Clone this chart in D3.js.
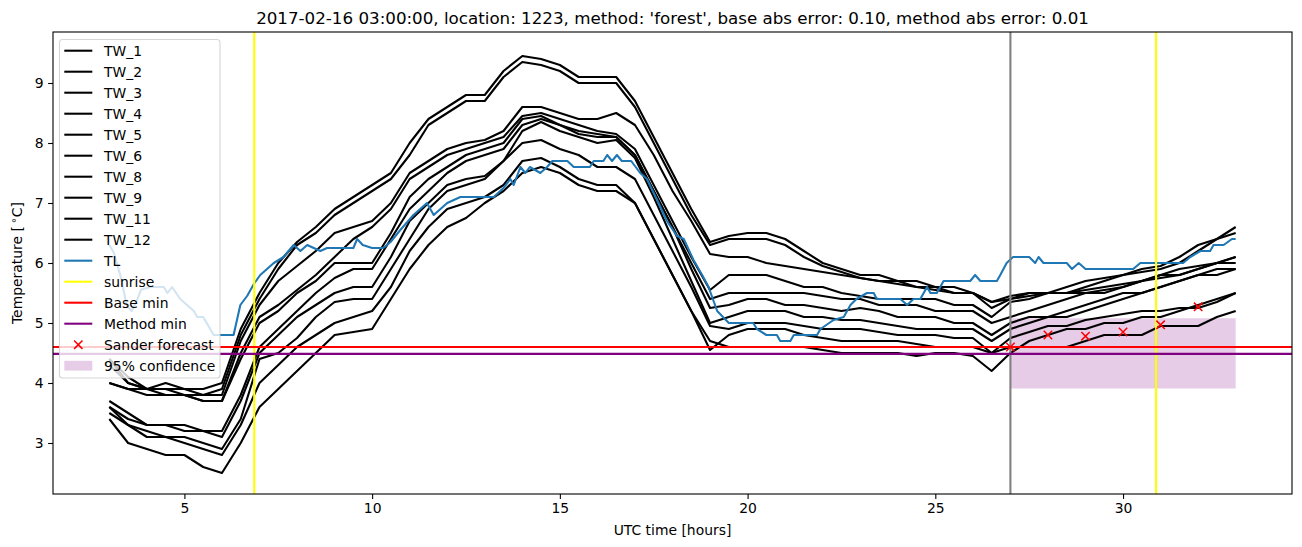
<!DOCTYPE html>
<html>
<head>
<meta charset="utf-8">
<script src="https://cdn.jsdelivr.net/npm/d3@7/dist/d3.min.js"></script>
<style>
  html, body { margin: 0; padding: 0; background: #fff; }
  svg { display: block; }
  text { font-family: "DejaVu Sans", sans-serif; fill: #000; }
</style>
</head>
<body>
<svg id="chart" width="1302" height="547"></svg>
<script>
// ---------------- data ----------------
const titleText = "2017-02-16 03:00:00, location: 1223, method: 'forest', base abs error: 0.10, method abs error: 0.01";
const xLabel = "UTC time [hours]";
const xTicks = [5, 10, 15, 20, 25, 30];
const yTicks = [3, 4, 5, 6, 7, 8, 9];

const hours = [3, 3.5, 4, 4.5, 5, 5.5, 6, 6.5, 7, 7.5, 8, 8.5, 9, 9.5, 10, 10.5, 11, 11.5, 12, 12.5,
  13, 13.5, 14, 14.5, 15, 15.5, 16, 16.5, 17, 17.5, 18, 18.5, 19, 19.5, 20, 20.5, 21, 21.5, 22, 22.5,
  23, 23.5, 24, 24.5, 25, 25.5, 26, 26.5, 27, 27.5, 28, 28.5, 29, 29.5, 30, 30.5, 31, 31.5, 32, 32.5, 33];

const twNames = ["TW_1", "TW_2", "TW_3", "TW_4", "TW_5", "TW_6", "TW_8", "TW_9", "TW_11", "TW_12"];

const tw1 = [4.4, 4.1, 3.9, 4.0, 3.9, 3.9, 4.0, 4.9, 5.5, 6.0,
  6.35, 6.6, 6.9, 7.1, 7.3, 7.5, 8.0, 8.4, 8.6, 8.8,
  8.8, 9.2, 9.45, 9.4, 9.3, 9.1, 9.1, 9.1, 8.7, 8.1,
  7.5, 6.9, 6.35, 6.45, 6.5, 6.5, 6.4, 6.2, 6.0, 5.9,
  5.8, 5.8, 5.7, 5.7, 5.6, 5.6, 5.5, 5.35, 5.45, 5.5,
  5.5, 5.6, 5.7, 5.75, 5.8, 5.85, 5.9, 6.0, 6.2, 6.4, 6.6];
const tw2 = [4.4, 4.0, 3.9, 3.9, 3.9, 3.8, 3.9, 4.8, 5.4, 5.9,
  6.3, 6.5, 6.8, 7.0, 7.2, 7.4, 7.8, 8.3, 8.5, 8.7,
  8.7, 9.1, 9.35, 9.3, 9.2, 9.0, 9.0, 9.0, 8.6, 8.0,
  7.4, 6.8, 6.3, 6.4, 6.4, 6.4, 6.3, 6.1, 5.95, 5.85,
  5.75, 5.7, 5.7, 5.6, 5.6, 5.5, 5.5, 5.25, 5.4, 5.5,
  5.5, 5.5, 5.6, 5.7, 5.8, 5.9, 5.95, 6.1, 6.3, 6.4, 6.5];
const tw3 = [4.3, 4.0, 3.9, 3.9, 3.8, 3.8, 3.8, 4.7, 5.3, 5.7,
  5.95, 6.2, 6.5, 6.6, 6.7, 7.0, 7.5, 7.7, 7.9, 8.0,
  8.05, 8.2, 8.6, 8.6, 8.5, 8.4, 8.4, 8.5, 8.3, 7.8,
  7.2, 6.7, 6.15, 6.1, 6.1, 6.0, 5.95, 5.9, 5.85, 5.8,
  5.75, 5.7, 5.65, 5.6, 5.55, 5.5, 5.5, 5.35, 5.4, 5.45,
  5.5, 5.5, 5.55, 5.6, 5.65, 5.7, 5.8, 5.9, 5.95, 6.0, 6.1];
const tw4 = [4.0, 3.9, 3.8, 3.8, 3.8, 3.7, 3.7, 4.5, 5.1, 5.3,
  5.55, 5.8, 6.1, 6.4, 6.6, 6.9, 7.4, 7.6, 7.8, 7.9,
  8.0, 8.1, 8.45, 8.5, 8.4, 8.3, 8.2, 8.15, 7.9, 7.3,
  6.7, 6.1, 5.55, 5.8, 5.8, 5.8, 5.7, 5.6, 5.6, 5.5,
  5.45, 5.4, 5.4, 5.4, 5.4, 5.3, 5.3, 5.1, 5.35, 5.4,
  5.5, 5.5, 5.5, 5.55, 5.6, 5.7, 5.75, 5.8, 5.9, 6.0, 6.1];
const tw5 = [4.0, 3.9, 3.9, 3.8, 3.8, 3.7, 3.7, 4.4, 5.0, 5.2,
  5.5, 5.7, 6.0, 6.0, 6.0, 6.5, 7.1, 7.4, 7.6, 7.8,
  7.9, 8.0, 8.4, 8.45, 8.3, 8.2, 8.15, 8.1, 7.8, 7.2,
  6.6, 6.0, 5.4, 5.5, 5.5, 5.5, 5.5, 5.5, 5.45, 5.4,
  5.4, 5.3, 5.3, 5.3, 5.2, 5.2, 5.2, 5.0, 5.1, 5.2,
  5.3, 5.4, 5.5, 5.5, 5.6, 5.7, 5.8, 5.8, 5.9, 6.0, 6.0];
const tw6 = [3.7, 3.5, 3.3, 3.3, 3.3, 3.2, 3.2, 3.8, 4.6, 4.9,
  5.2, 5.5, 5.75, 5.9, 5.9, 6.4, 6.9, 7.2, 7.5, 7.7,
  7.8, 7.9, 8.3, 8.4, 8.3, 8.15, 8.1, 8.1, 7.8, 7.2,
  6.6, 5.9, 5.25, 5.3, 5.4, 5.4, 5.3, 5.3, 5.25, 5.2,
  5.25, 5.2, 5.1, 5.1, 5.1, 5.0, 5.0, 4.8, 5.0, 5.1,
  5.1, 5.2, 5.3, 5.4, 5.5, 5.5, 5.6, 5.7, 5.8, 5.8, 5.9];
const tw8 = [3.6, 3.4, 3.3, 3.3, 3.2, 3.2, 3.1, 3.7, 4.5, 4.8,
  5.1, 5.3, 5.5, 5.6, 5.6, 6.1, 6.7, 7.0, 7.3, 7.4,
  7.45, 7.7, 8.2, 8.35, 8.2, 8.1, 8.0, 8.05, 7.75, 7.1,
  6.4, 5.7, 5.0, 5.1, 5.2, 5.2, 5.2, 5.1, 5.1, 5.05,
  5.05, 5.0, 4.95, 4.9, 4.9, 4.9, 4.9, 4.7, 4.9, 5.0,
  5.1, 5.1, 5.2, 5.3, 5.4, 5.5, 5.6, 5.7, 5.8, 5.9, 5.9];
const tw9 = [3.6, 3.3, 3.2, 3.1, 3.1, 3.0, 2.9, 3.4, 4.4, 4.5,
  4.75, 5.1, 5.35, 5.4, 5.4, 5.9, 6.4, 6.9, 7.2, 7.3,
  7.4, 7.7, 8.0, 8.05, 7.9, 7.8, 7.6, 7.6, 7.4, 6.8,
  6.2, 5.6, 4.95, 4.9, 5.0, 5.0, 5.0, 4.95, 4.9, 4.9,
  4.9, 4.85, 4.8, 4.8, 4.8, 4.75, 4.75, 4.5, 4.75, 4.85,
  4.95, 4.95, 5.05, 5.1, 5.15, 5.2, 5.2, 5.25, 5.25, 5.35, 5.5];
const tw11 = [3.5, 3.3, 3.1, 3.1, 3.0, 2.9, 2.8, 3.3, 4.0, 4.3,
  4.6, 4.8, 5.0, 5.1, 5.2, 5.6, 6.2, 6.6, 6.9, 7.0,
  7.1, 7.3, 7.7, 7.75, 7.6, 7.4, 7.3, 7.3, 7.0, 6.4,
  5.8, 5.2, 4.55, 4.8, 4.9, 4.9, 4.9, 4.8, 4.75, 4.7,
  4.7, 4.7, 4.7, 4.65, 4.6, 4.6, 4.6, 4.5, 4.6, 4.6,
  4.6, 4.6, 4.7, 4.8, 4.8, 4.8, 4.95, 4.95, 4.95, 5.1, 5.2];
const tw12 = [3.4, 3.0, 2.9, 2.8, 2.8, 2.6, 2.5, 3.0, 3.6, 3.9,
  4.2, 4.5, 4.8, 4.85, 4.9, 5.4, 5.9, 6.3, 6.6, 6.75,
  7.0, 7.2, 7.5, 7.6, 7.5, 7.3, 7.2, 7.2, 7.0, 6.4,
  5.8, 5.2, 4.7, 4.6, 4.6, 4.6, 4.6, 4.6, 4.55, 4.5,
  4.5, 4.5, 4.5, 4.45, 4.5, 4.5, 4.45, 4.2, 4.5, 4.7,
  4.8, 4.9, 4.9, 5.0, 5.0, 5.1, 5.1, 5.2, 5.3, 5.4, 5.5];

const tlHours = [3.0, 3.12, 3.3, 3.47, 3.6, 3.75, 3.85, 4.1, 4.45, 4.55, 4.67, 4.89, 5.07, 5.25, 5.34, 5.5,
  5.78, 6.31, 6.49, 6.67, 6.85, 7.02, 7.2, 7.38, 7.64, 7.91, 8.09, 8.27, 8.62, 8.8, 9.5, 9.6, 9.75,
  10.0, 10.3, 10.49, 10.75, 11.1, 11.28, 11.46, 11.64, 11.82, 12.0, 12.35, 13.24, 13.5, 13.68, 13.77,
  13.95, 14.08, 14.2, 14.48, 14.66, 14.8, 15.2, 15.37, 15.8, 15.9, 16.16, 16.26, 16.39, 16.52, 16.65,
  16.9, 17.14, 17.32, 17.59, 17.85, 18.12, 18.3, 18.56, 18.79, 18.96, 19.19, 19.5, 20.15, 20.25, 20.5,
  20.78, 20.87, 21.14, 21.23, 21.85, 21.94, 22.29, 22.56, 22.74, 22.9, 23.18, 23.36, 23.44, 24.07,
  24.25, 24.42, 24.6, 24.78, 24.87, 25.04, 25.22, 25.93, 26.06, 26.2, 26.64, 26.73, 26.9, 27.07, 27.5,
  27.66, 27.75, 27.88, 28.5, 28.64, 28.82, 29.0, 30.27, 30.46, 31.6, 31.79, 32.06, 32.32, 32.41, 32.68,
  32.9, 33.0];
const tlTemps = [6.3, 6.17, 5.78, 5.28, 5.2, 5.4, 5.56, 5.6, 5.6, 5.5, 5.6, 5.4, 5.3, 5.2, 5.1, 5.1,
  4.8, 4.8, 5.3, 5.45, 5.65, 5.8, 5.9, 6.0, 6.1, 6.3, 6.2, 6.3, 6.2, 6.25, 6.25, 6.4, 6.3,
  6.25, 6.25, 6.35, 6.55, 6.8, 6.9, 7.0, 6.8, 6.9, 7.0, 7.1, 7.1, 7.25, 7.4, 7.3,
  7.6, 7.5, 7.6, 7.5, 7.6, 7.7, 7.7, 7.6, 7.6, 7.7, 7.7, 7.8, 7.7, 7.8, 7.7,
  7.7, 7.5, 7.4, 7.05, 6.7, 6.45, 6.4, 6.05, 5.8, 5.6, 5.2, 5.0, 5.0, 4.9, 4.8,
  4.8, 4.7, 4.7, 4.8, 4.8, 4.9, 5.05, 5.1, 5.3, 5.4, 5.5, 5.5, 5.4, 5.4,
  5.3, 5.4, 5.4, 5.6, 5.5, 5.5, 5.7, 5.7, 5.8, 5.7, 5.7, 5.8, 6.0, 6.1, 6.1,
  6.0, 6.1, 6.0, 6.0, 5.9, 6.0, 5.9, 5.9, 6.0, 6.0, 6.1, 6.2, 6.2, 6.3, 6.3,
  6.4, 6.4];

const sunriseHours = [6.86, 30.88];
const nowHour = 27.0;
const baseMin = 4.6;
const methodMin = 4.485;
const sanderHours = [27, 28, 29, 30, 31, 32];
const sanderTemps = [4.6, 4.8, 4.78, 4.85, 4.97, 5.27];
const confHours = [27, 33];
const confLow = [3.91, 3.91];
const confHigh = [5.08, 5.08];

const legendLabels = ["TW_1", "TW_2", "TW_3", "TW_4", "TW_5", "TW_6", "TW_8", "TW_9", "TW_11", "TW_12",
  "TL", "sunrise", "Base min", "Method min", "Sander forecast", "95% confidence"];

// ---------------- drawing ----------------
const svg = d3.select("#chart");
const L = 53, R = 1292, T = 32, B = 494;
const x = d3.scaleLinear().domain([1.5, 34.5]).range([L, R]);
const y = d3.scaleLinear().domain([2.15, 9.85]).range([B, T]);

svg.append("rect").attr("width", 1302).attr("height", 547).attr("fill", "#fff");

svg.append("defs").append("clipPath").attr("id", "clip")
  .append("rect").attr("x", L).attr("y", T).attr("width", R - L).attr("height", B - T);

const plot = svg.append("g").attr("clip-path", "url(#clip)");

// confidence band (zorder 1 in matplotlib -> below lines)
const area = d3.area().x((d) => x(d[0])).y0((d) => y(d[1])).y1((d) => y(d[2]));
plot.append("path")
  .datum(confHours.map((h, i) => [h, confLow[i], confHigh[i]]))
  .attr("d", area).attr("fill", "purple").attr("fill-opacity", 0.2);

const line = d3.line().x((d) => x(d[0])).y((d) => y(d[1]));
const twSeries = [tw1, tw2, tw3, tw4, tw5, tw6, tw8, tw9, tw11, tw12];
twSeries.forEach((vals) => {
  plot.append("path")
    .datum(hours.map((h, i) => [h, vals[i]]))
    .attr("d", line).attr("fill", "none").attr("stroke", "#000")
    .attr("stroke-width", 2.08).attr("stroke-linejoin", "round");
});

plot.append("path")
  .datum(tlHours.map((h, i) => [h, tlTemps[i]]))
  .attr("d", line).attr("fill", "none").attr("stroke", "#1f77b4")
  .attr("stroke-width", 2.08).attr("stroke-linejoin", "round");

// "now" line
plot.append("line").attr("x1", x(nowHour)).attr("x2", x(nowHour)).attr("y1", T).attr("y2", B)
  .attr("stroke", "#808080").attr("stroke-width", 2.08);

sunriseHours.forEach((h) => {
  plot.append("line").attr("x1", x(h)).attr("x2", x(h)).attr("y1", T).attr("y2", B)
    .attr("stroke", "#ffff00").attr("stroke-width", 2.08);
});

plot.append("line").attr("x1", L).attr("x2", R).attr("y1", y(baseMin)).attr("y2", y(baseMin))
  .attr("stroke", "#ff0000").attr("stroke-width", 2.08);
plot.append("line").attr("x1", L).attr("x2", R).attr("y1", y(methodMin)).attr("y2", y(methodMin))
  .attr("stroke", "#800080").attr("stroke-width", 2.08);

function cross(g, cx, cy, s) {
  g.append("path").attr("d", `M${cx - s},${cy - s}L${cx + s},${cy + s}M${cx - s},${cy + s}L${cx + s},${cy - s}`)
    .attr("stroke", "#ff0000").attr("stroke-width", 1.5).attr("fill", "none");
}
sanderHours.forEach((h, i) => cross(plot, x(h), y(sanderTemps[i]), 4.2));

// axes
const xAxis = d3.axisBottom(x).tickValues(xTicks).tickSize(4.9).tickPadding(4.5).tickFormat(d3.format("d"));
const gx = svg.append("g").attr("transform", `translate(0,${B})`).call(xAxis);
const yAxis = d3.axisLeft(y).tickValues(yTicks).tickSize(4.9).tickPadding(4.5).tickFormat(d3.format("d"));
const gy = svg.append("g").attr("transform", `translate(${L},0)`).call(yAxis);
[gx, gy].forEach((g) => {
  g.select(".domain").remove();
  g.selectAll(".tick line").attr("stroke", "#000").attr("stroke-width", 1.1);
  g.selectAll(".tick text").attr("font-family", "DejaVu Sans").attr("font-size", 13.9).attr("fill", "#000");
});

svg.append("rect").attr("x", L).attr("y", T).attr("width", R - L).attr("height", B - T)
  .attr("fill", "none").attr("stroke", "#000").attr("stroke-width", 1.1);

// texts
svg.append("text").attr("x", (L + R) / 2).attr("y", 24).attr("text-anchor", "middle")
  .attr("font-size", 16.7).text(titleText);
svg.append("text").attr("x", (L + R) / 2).attr("y", 535).attr("text-anchor", "middle")
  .attr("font-size", 13.9).text(xLabel);
const yl = svg.append("text").attr("transform", `translate(22,${(T + B) / 2}) rotate(-90)`)
  .attr("text-anchor", "middle").attr("font-size", 13.9);
yl.append("tspan").text("Temperature [\u2009");
yl.append("tspan").attr("dy", -5).attr("font-size", 10).text("\u2218");
yl.append("tspan").attr("dy", 5).text("C]");

// legend
const lg = svg.append("g");
const lx = 59.5, ly = 39.5, lw = 160.5, lh = 338.5, rowH = 21.0, firstRow = 50.7;
lg.append("rect").attr("x", lx).attr("y", ly).attr("width", lw).attr("height", lh)
  .attr("rx", 3).attr("fill", "#fff").attr("fill-opacity", 0.8)
  .attr("stroke", "#cccccc").attr("stroke-opacity", 0.8).attr("stroke-width", 1.1);
const handleX0 = 64.3, handleX1 = 92.3, textX = 104;
legendLabels.forEach((lab, i) => {
  const cy = firstRow + i * rowH;
  if (i < 10) {
    lg.append("line").attr("x1", handleX0).attr("x2", handleX1).attr("y1", cy).attr("y2", cy)
      .attr("stroke", "#000").attr("stroke-width", 2.08);
  } else if (lab === "TL") {
    lg.append("line").attr("x1", handleX0).attr("x2", handleX1).attr("y1", cy).attr("y2", cy)
      .attr("stroke", "#1f77b4").attr("stroke-width", 2.08);
  } else if (lab === "sunrise") {
    lg.append("line").attr("x1", handleX0).attr("x2", handleX1).attr("y1", cy).attr("y2", cy)
      .attr("stroke", "#ffff00").attr("stroke-width", 2.08);
  } else if (lab === "Base min") {
    lg.append("line").attr("x1", handleX0).attr("x2", handleX1).attr("y1", cy).attr("y2", cy)
      .attr("stroke", "#ff0000").attr("stroke-width", 2.08);
  } else if (lab === "Method min") {
    lg.append("line").attr("x1", handleX0).attr("x2", handleX1).attr("y1", cy).attr("y2", cy)
      .attr("stroke", "#800080").attr("stroke-width", 2.08);
  } else if (lab === "Sander forecast") {
    cross(lg, (handleX0 + handleX1) / 2, cy, 4.2);
  } else {
    lg.append("rect").attr("x", handleX0).attr("y", cy - 4.9).attr("width", handleX1 - handleX0).attr("height", 9.8)
      .attr("fill", "purple").attr("fill-opacity", 0.2);
  }
  lg.append("text").attr("x", textX).attr("y", cy + 5).attr("font-size", 13.9).text(lab);
});
</script>
</body>
</html>
